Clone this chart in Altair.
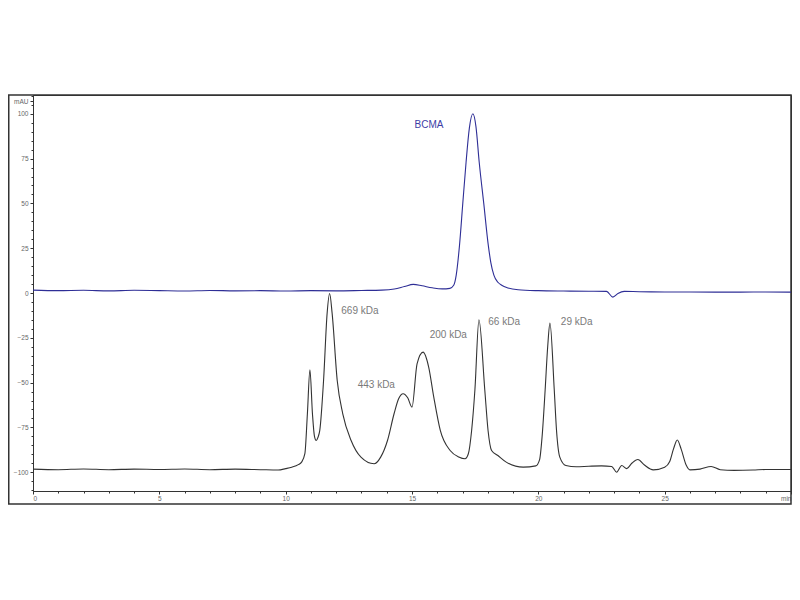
import altair as alt
import pandas as pd

# BCMA trace (blue): retention time (min), absorbance (mAU)
bcma_min = [0, 1, 2, 3, 4, 5, 6, 7, 8, 9, 10, 11, 12, 13, 13.8, 14.3, 14.7, 15.05,
            15.4, 15.8, 16.2, 16.5, 16.65, 16.75, 16.88, 17.01, 17.14, 17.27, 17.41,
            17.53, 17.66, 17.84, 18.02, 18.12, 18.24, 18.4, 18.55, 18.8, 19.2, 20,
            21, 22, 22.7, 22.95, 23.15, 23.4, 24, 25, 26, 27, 28, 29, 30]
bcma_mau = [1.6, 1.3, 1.5, 1.2, 1.5, 1.3, 1.1, 1.4, 1.2, 1.3, 1.1, 1.3, 1.2, 1.4, 1.6,
            2.2, 3.6, 4.8, 4.0, 2.9, 2.3, 2.6, 4.3, 10, 26.6, 50, 73, 92, 100,
            93, 73, 50, 26.6, 17, 10, 6, 4.3, 2.8, 1.8, 1.3,
            1.1, 1.0, 0.9, -2.3, -0.3, 0.9, 0.7, 0.6, 0.6, 0.5, 0.5, 0.6, 0.5]

# molecular weight standards trace (black)
std_min = [0, 1, 2, 3, 4, 5, 6, 7, 8, 9, 9.7, 10.0, 10.24, 10.5, 10.63, 10.76, 10.86,
           10.96, 11.06, 11.14, 11.21, 11.28, 11.35, 11.5, 11.64, 11.74, 11.84, 12.04,
           12.26, 12.59, 12.98, 13.5, 13.76, 14.03, 14.29, 14.47, 14.65, 14.83, 15.0,
           15.2, 15.44, 15.66, 15.86, 16.12, 16.51, 16.85, 17.1, 17.23, 17.36, 17.49,
           17.65, 17.88, 18.01, 18.15, 18.4, 18.73, 19.4, 19.9, 20.05, 20.15, 20.27,
           20.37, 20.46, 20.63, 20.72, 20.85, 21.09, 21.5, 22.0, 22.5, 22.9, 23.1, 23.3,
           23.5, 23.7, 23.94, 24.2, 24.55, 25.0, 25.2, 25.35, 25.5, 25.65, 25.85, 26.0,
           26.4, 26.84, 27.2, 27.75, 28.5, 29, 30]
std_mau = [-98.3, -98.6, -98.2, -98.6, -98.3, -98.5, -98.2, -98.6, -98.3, -98.6, -98.8,
           -98.0, -97.2, -95.8, -94.4, -89.7, -67.4, -42.8, -67.4, -80, -82.3, -80.5,
           -76.7, -48.8, -11.5, -0.3, -11.5, -48.8, -67.4, -82.3, -91.6, -95.3, -91.6,
           -82.3, -67.4, -59, -56.2, -58.5, -63.7, -39.5, -33, -41.3, -58, -76.7, -87.9,
           -91.5, -92.5, -89.7, -76.7, -54, -14.9, -54, -76.7, -87.9, -90.7, -94.4,
           -97.2, -96.5, -93, -80, -54, -30, -16.8, -54, -76.7, -91.6, -96.3, -97.0,
           -96.7, -96.5, -96.8, -100, -96.3, -98, -95, -92.9, -96, -98.7, -97.2, -94,
           -87, -82, -87, -96, -98.7, -98.3, -96.8, -98.6, -99, -98.8, -98.5, -98.5]

# peak annotations
peak_text = ["669 kDa", "443 kDa", "200 kDa", "66 kDa", "29 kDa"]
peak_min = [12.2, 12.85, 15.7, 18.02, 20.89]
peak_mau = [-10, -51.6, -23.6, -16.2, -16.2]

bcma_df = pd.DataFrame({"t": bcma_min, "a": bcma_mau})
std_df = pd.DataFrame({"t": std_min, "a": std_mau})
peak_df = pd.DataFrame({"label": peak_text, "t": peak_min, "a": peak_mau})
bcma_label = pd.DataFrame({"label": ["BCMA"], "t": [15.1], "a": [93.5]})

FONT = "Liberation Sans"
PAD_L = 25
W, H = 758, 396
xs = alt.Scale(domain=[0, 30], nice=False)
ys = alt.Scale(domain=[-110.5, 110.5], nice=False)

# main axes: labels and major ticks
x_major = alt.Axis(values=[0, 5, 10, 15, 20, 25, 30], title=None, grid=False,
                   labelExpr="datum.value == 30 ? 'min' : datum.label",
                   labelFlush=True, labelFontSize=6.5, labelColor="#666",
                   labelFont=FONT, labelPadding=1, tickSize=3,
                   tickColor="#333", domainColor="#333", orient="bottom")
y_major = alt.Axis(values=[-100, -75, -50, -25, 0, 25, 50, 75, 100, 107],
                   labelExpr="datum.value == 107 ? 'mAU' : datum.label",
                   title=None, grid=False, labelFontSize=6.5, labelColor="#666",
                   labelFont=FONT, labelPadding=2, tickSize=3,
                   tickColor="#333", domainColor="#333", orient="left")

# minor ticks only
x_minor = alt.Axis(values=list(range(0, 31)), labels=False, domain=False,
                   grid=False, title=None, tickSize=2, tickColor="#333",
                   orient="bottom")
y_minor = alt.Axis(values=list(range(-110, 111, 5)), labels=False, domain=False,
                   grid=False, title=None, tickSize=2, tickColor="#333",
                   orient="left")

# outer box around plot and tick labels
frame = alt.Chart(pd.DataFrame({"k": [0]})).mark_rect(
    fillOpacity=0, stroke="#333", strokeWidth=1.5, clip=False
).encode(x=alt.value(-PAD_L + 0.75), x2=alt.value(W),
         y=alt.value(0), y2=alt.value(H + 13))

std_line = alt.Chart(std_df).mark_line(
    color="#333", strokeWidth=1.1, interpolate="monotone"
).encode(x=alt.X("t:Q", scale=xs, axis=x_major),
         y=alt.Y("a:Q", scale=ys, axis=y_major))

bcma_line = alt.Chart(bcma_df).mark_line(
    color="#2e2e96", strokeWidth=1.1, interpolate="monotone"
).encode(x=alt.X("t:Q", scale=xs, axis=x_minor),
         y=alt.Y("a:Q", scale=ys, axis=y_minor))

peaks = alt.Chart(peak_df).mark_text(
    align="left", baseline="middle", font=FONT, fontSize=10, color="#7a7a7a"
).encode(x=alt.X("t:Q", scale=xs, axis=None),
         y=alt.Y("a:Q", scale=ys, axis=None), text="label:N")

bcma_text = alt.Chart(bcma_label).mark_text(
    align="left", baseline="middle", font=FONT, fontSize=10, color="#3d3da6"
).encode(x=alt.X("t:Q", scale=xs, axis=None),
         y=alt.Y("a:Q", scale=ys, axis=None), text="label:N")

chart = (
    alt.layer(frame, std_line, bcma_line, peaks, bcma_text)
    .resolve_axis(x="independent", y="independent")
    .properties(width=W, height=H, background="white",
                padding={"left": PAD_L, "top": 87, "right": 1, "bottom": 20},
                autosize=alt.AutoSizeParams(type="none"))
    .configure_view(stroke="#333", strokeWidth=1)
)

chart.save("out.html", embed_options={"renderer": "svg", "actions": False})
